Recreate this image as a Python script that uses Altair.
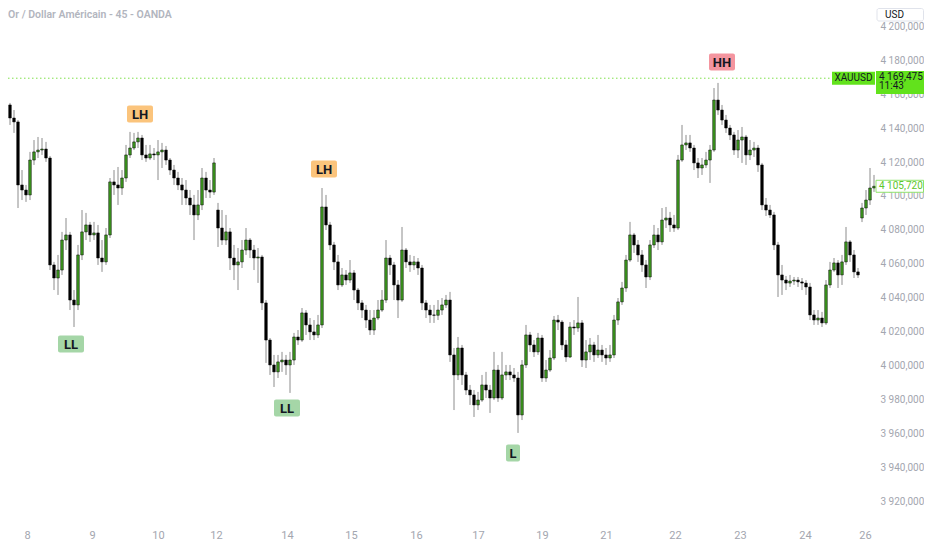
import altair as alt
import pandas as pd

# ---- candle data (XAUUSD, 45-min, resampled view) ----
opens = [4179.1, 4159.6, 4153.7, 4146.0, 4143.7, 4106.5, 4103.5, 4100.6, 4121.2, 4126.0,
         4127.1, 4127.7, 4122.4, 4059.3, 4051.6, 4056.3, 4074.0, 4077.0, 4038.6, 4035.7,
         4065.2, 4078.8, 4082.9, 4077.0, 4078.2, 4063.4, 4061.1, 4077.0, 4108.3, 4106.5,
         4104.7, 4110.6, 4124.2, 4128.3, 4131.9, 4134.2, 4124.2, 4122.4, 4124.8, 4124.2,
         4126.0, 4127.1, 4121.2, 4115.3, 4110.6, 4106.5, 4103.5, 4098.8, 4094.7, 4088.8,
         4094.7, 4110.6, 4103.5, 4102.3, 4091.7, 4081.1, 4074.0, 4078.8, 4063.4, 4059.3,
         4061.1, 4068.1, 4074.0, 4068.1, 4063.4, 4064.0, 4036.9, 4015.0, 4000.3, 3996.2,
         4002.1, 4003.2, 4000.3, 4003.2, 4016.8, 4015.0, 4031.0, 4023.9, 4019.8, 4018.0,
         4023.9, 4093.5, 4082.9, 4071.1, 4061.1, 4047.5, 4053.4, 4050.4, 4054.6, 4044.5,
         4036.9, 4032.7, 4026.8, 4020.9, 4028.0, 4032.7, 4038.6, 4063.4, 4059.3, 4047.5,
         4038.6, 4068.1, 4061.1, 4059.3, 4061.1, 4057.5, 4036.9, 4032.7, 4029.8, 4029.6,
         4032.7, 4035.7, 4038.6, 4006.2, 3994.4, 4010.3, 3994.4, 3985.5, 3982.6, 3976.7,
         3979.6, 3988.5, 3985.5, 3980.8, 3997.3, 3980.8, 3994.4, 3996.2, 3994.4, 3992.6,
         3970.8, 4000.3, 4018.0, 4012.1, 4008.0, 4016.2, 3992.6, 3997.3, 4004.4, 4026.8,
         4025.6, 4012.1, 4005.0, 4022.7, 4022.1, 4025.1, 4003.2, 4008.0, 4012.1, 4006.2,
         4009.1, 4006.2, 4004.4, 4006.2, 4026.8, 4037.5, 4045.7, 4062.2, 4077.0, 4071.1,
         4065.2, 4059.3, 4052.2, 4071.1, 4077.0, 4072.9, 4085.8, 4087.0, 4082.9, 4081.1,
         4121.2, 4130.1, 4131.3, 4128.3, 4119.5, 4116.5, 4118.3, 4121.2, 4127.1, 4156.6,
         4150.7, 4144.8, 4140.1, 4136.0, 4127.1, 4133.0, 4134.8, 4124.2, 4127.1, 4128.3,
         4118.3, 4094.7, 4091.7, 4088.8, 4071.1, 4053.4, 4050.4, 4048.6, 4049.8, 4050.4,
         4049.3, 4048.6, 4046.3, 4029.8, 4026.8, 4028.0, 4025.1, 4047.5, 4056.3, 4060.5,
         4053.4, 4061.1, 4072.9, 4065.2, 4055.2, 4087.0, 4092.9, 4097.6, 4104.7]

highs = [4181.4, 4161.4, 4154.9, 4150.7, 4144.8, 4115.3, 4106.5, 4126.0, 4133.0, 4134.8,
         4134.2, 4131.9, 4123.6, 4061.1, 4065.2, 4078.8, 4087.0, 4078.8, 4044.5, 4071.1,
         4091.7, 4090.0, 4084.7, 4084.7, 4082.9, 4074.0, 4081.1, 4110.6, 4115.3, 4117.1,
         4115.3, 4130.1, 4137.8, 4137.2, 4137.8, 4136.0, 4130.1, 4130.1, 4128.3, 4133.0,
         4131.3, 4129.5, 4122.4, 4118.3, 4114.2, 4110.6, 4109.4, 4103.5, 4100.6, 4103.5,
         4116.5, 4114.2, 4109.4, 4122.4, 4095.9, 4091.7, 4088.8, 4081.1, 4071.1, 4069.3,
         4074.0, 4081.1, 4075.2, 4071.1, 4069.3, 4065.2, 4038.6, 4016.2, 4006.2, 4006.2,
         4008.0, 4006.2, 4008.0, 4019.2, 4020.9, 4033.9, 4032.7, 4028.0, 4026.8, 4029.8,
         4104.7, 4100.6, 4084.7, 4072.9, 4065.2, 4057.5, 4056.3, 4062.2, 4056.3, 4045.7,
         4038.6, 4035.7, 4032.7, 4032.7, 4038.6, 4044.5, 4074.0, 4065.2, 4061.1, 4050.4,
         4081.7, 4069.3, 4065.2, 4064.6, 4063.4, 4059.3, 4038.6, 4035.7, 4035.7, 4038.6,
         4039.8, 4041.6, 4043.4, 4010.3, 4016.8, 4012.1, 3996.2, 3988.5, 3985.5, 3984.4,
         3994.4, 3996.2, 3988.5, 4008.0, 4000.3, 4008.0, 4000.3, 4000.3, 3998.5, 3996.2,
         4003.2, 4023.9, 4019.8, 4015.0, 4019.2, 4018.0, 4003.2, 4009.1, 4029.2, 4029.8,
         4026.8, 4015.0, 4025.6, 4026.8, 4040.4, 4026.8, 4015.0, 4016.2, 4013.9, 4018.0,
         4012.1, 4010.3, 4012.1, 4029.8, 4039.8, 4049.3, 4065.2, 4084.7, 4078.2, 4074.0,
         4068.1, 4062.2, 4074.0, 4082.9, 4081.1, 4092.9, 4093.5, 4090.6, 4088.8, 4124.2,
         4141.9, 4136.0, 4136.0, 4130.1, 4122.4, 4122.4, 4126.0, 4130.1, 4163.7, 4166.7,
         4153.7, 4147.8, 4141.9, 4137.8, 4138.9, 4140.7, 4136.0, 4133.0, 4131.9, 4130.1,
         4119.5, 4098.8, 4094.7, 4090.6, 4072.9, 4059.3, 4052.8, 4053.4, 4052.2, 4052.2,
         4051.6, 4050.4, 4048.7, 4032.7, 4032.7, 4031.6, 4050.4, 4061.1, 4063.4, 4062.2,
         4065.2, 4081.7, 4074.0, 4068.1, 4057.5, 4095.9, 4103.5, 4116.5, 4112.4]

lows = [4156.6, 4147.8, 4141.9, 4137.2, 4092.9, 4097.6, 4096.5, 4097.6, 4118.3, 4122.4,
        4124.2, 4120.1, 4056.3, 4044.5, 4041.6, 4053.4, 4068.1, 4032.7, 4022.7, 4032.7,
        4062.2, 4074.0, 4072.9, 4074.0, 4059.3, 4055.2, 4059.3, 4075.2, 4100.6, 4094.7,
        4100.6, 4108.3, 4122.4, 4127.1, 4128.3, 4121.2, 4120.1, 4121.2, 4121.2, 4109.4,
        4116.5, 4118.3, 4112.4, 4106.5, 4103.5, 4094.7, 4094.7, 4088.8, 4074.0, 4085.8,
        4091.7, 4098.8, 4098.8, 4100.6, 4069.9, 4071.1, 4071.1, 4056.3, 4050.4, 4044.5,
        4057.5, 4065.2, 4063.4, 4056.3, 4048.7, 4032.7, 4001.5, 3994.4, 3987.3, 3992.6,
        3996.2, 3994.4, 3983.8, 4000.3, 4012.1, 4013.9, 4018.0, 4015.0, 4015.0, 4016.2,
        4022.1, 4079.9, 4068.1, 4056.3, 4044.5, 4046.3, 4047.5, 4048.7, 4038.6, 4032.7,
        4028.0, 4022.1, 4018.0, 4018.0, 4026.8, 4031.6, 4036.9, 4053.4, 4038.6, 4028.0,
        4037.5, 4057.5, 4055.2, 4056.3, 4053.4, 4032.7, 4028.0, 4025.1, 4025.1, 4026.8,
        4029.8, 4033.9, 4002.1, 3973.7, 3991.4, 3988.5, 3982.6, 3976.7, 3969.6, 3973.7,
        3978.5, 3980.8, 3972.0, 3979.6, 3978.5, 3979.6, 3991.4, 3991.4, 3990.3, 3960.2,
        3967.8, 3998.5, 4008.0, 4005.0, 4006.2, 3990.3, 3990.3, 3996.2, 4003.2, 4020.9,
        4009.1, 4002.1, 4004.4, 4018.0, 4019.8, 3999.1, 3998.5, 4003.2, 4002.1, 4004.4,
        4002.1, 4000.3, 4002.1, 4004.4, 4023.9, 4035.7, 4043.4, 4061.1, 4066.4, 4061.1,
        4055.2, 4045.7, 4050.4, 4069.3, 4068.1, 4071.1, 4081.1, 4078.8, 4078.8, 4079.9,
        4120.1, 4127.1, 4126.0, 4115.3, 4110.6, 4112.4, 4116.5, 4107.7, 4126.0, 4147.8,
        4141.9, 4137.2, 4133.0, 4124.2, 4122.4, 4119.5, 4118.3, 4121.2, 4123.0, 4114.2,
        4091.7, 4088.2, 4087.0, 4068.1, 4040.4, 4041.6, 4044.5, 4046.3, 4047.5, 4046.3,
        4044.5, 4041.6, 4026.8, 4023.9, 4023.9, 4022.7, 4023.9, 4045.7, 4055.2, 4045.7,
        4047.5, 4059.3, 4061.1, 4051.6, 4051.6, 4084.6, 4088.8, 4094.7, 4102.4]

closes = [4159.6, 4153.7, 4146.0, 4143.7, 4106.5, 4103.5, 4100.6, 4121.2, 4126.0, 4127.1,
          4127.7, 4122.4, 4059.3, 4051.6, 4056.3, 4074.0, 4077.0, 4038.6, 4035.7, 4065.2,
          4078.8, 4082.9, 4077.0, 4078.2, 4063.4, 4061.1, 4077.0, 4108.3, 4106.5, 4104.7,
          4110.6, 4124.2, 4128.3, 4131.9, 4134.2, 4124.2, 4122.4, 4124.8, 4124.2, 4126.0,
          4127.1, 4121.2, 4115.3, 4110.6, 4106.5, 4103.5, 4098.8, 4094.7, 4088.8, 4094.7,
          4110.6, 4103.5, 4102.3, 4119.5, 4081.1, 4074.0, 4078.8, 4063.4, 4059.3, 4061.1,
          4068.1, 4074.0, 4068.1, 4063.4, 4064.0, 4036.9, 4015.0, 4000.3, 3996.2, 4002.1,
          4003.2, 4000.3, 4003.2, 4016.8, 4015.0, 4031.0, 4023.9, 4019.8, 4018.0, 4023.9,
          4093.5, 4082.9, 4071.1, 4061.1, 4047.5, 4053.4, 4050.4, 4054.6, 4044.5, 4036.9,
          4032.7, 4026.8, 4020.9, 4028.0, 4032.7, 4038.6, 4063.4, 4059.3, 4047.5, 4038.6,
          4068.1, 4061.1, 4059.3, 4061.1, 4057.5, 4036.9, 4032.7, 4029.8, 4029.6, 4032.7,
          4035.7, 4038.6, 4006.2, 3994.4, 4010.3, 3994.4, 3985.5, 3982.6, 3976.7, 3979.6,
          3988.5, 3985.5, 3980.8, 3997.3, 3980.8, 3994.4, 3996.2, 3994.4, 3992.6, 3970.8,
          4000.3, 4018.0, 4012.1, 4008.0, 4016.2, 3992.6, 3997.3, 4004.4, 4026.8, 4025.6,
          4012.1, 4005.0, 4022.7, 4022.1, 4025.1, 4003.2, 4008.0, 4012.1, 4006.2, 4009.1,
          4006.2, 4004.4, 4006.2, 4026.8, 4037.5, 4045.7, 4062.2, 4077.0, 4071.1, 4065.2,
          4059.3, 4052.2, 4071.1, 4077.0, 4072.9, 4085.8, 4087.0, 4082.9, 4081.1, 4121.2,
          4130.1, 4131.3, 4128.3, 4119.5, 4116.5, 4118.3, 4121.2, 4127.1, 4156.6, 4150.7,
          4144.8, 4140.1, 4136.0, 4127.1, 4133.0, 4134.8, 4124.2, 4127.1, 4128.3, 4118.3,
          4094.7, 4091.7, 4088.8, 4071.1, 4053.4, 4050.4, 4048.6, 4049.8, 4050.4, 4049.3,
          4048.6, 4046.3, 4029.8, 4026.8, 4028.0, 4025.1, 4047.5, 4056.3, 4060.5, 4053.4,
          4061.1, 4072.9, 4065.2, 4055.2, 4053.4, 4092.9, 4097.6, 4104.7, 4105.72]

# x-axis day labels (positions in bar-index units)
day_ticks = [6.25, 22.5, 39, 53.5, 71.25, 87.25, 103.5, 119, 135, 151, 168.25, 184.5, 200.75, 215.75]
day_labels = ["8", "9", "10", "12", "14", "15", "16", "17", "19", "21", "22", "23", "24", "26"]
price_ticks = [3920, 3940, 3960, 3980, 4000, 4020, 4040, 4060, 4080, 4100, 4120, 4140, 4160, 4180, 4200]

# swing-structure labels
swing_text = ["LL", "LH", "LL", "LH", "L", "HH"]
swing_idx = [17.25, 34.5, 71.25, 80.5, 127.75, 180]
swing_price = [4012.6, 4148.3, 3974.9, 4115.9, 3948.3, 4179.0]

marker_price = 4169.475
last_price = 4105.72
title_text = "Or / Dollar Américain - 45 - OANDA"

FONT = "Roboto"
AXIS_GREY = "#a3a6af"

df = pd.DataFrame({
    "idx": list(range(len(closes))),
    "open": opens, "high": highs, "low": lows, "close": closes,
})
df["dir"] = ["up" if c >= o else "down" for o, c in zip(opens, closes)]

ann = pd.DataFrame({"lab": swing_text, "idx": swing_idx, "price": swing_price})

xscale = alt.Scale(domain=[1.5, 218.5], nice=False, zero=False, padding=0)
yscale = alt.Scale(domain=[3915.9, 4210.9], nice=False, zero=False, padding=0)

# nested conditional mapping tick position -> day label
day_expr = "''"
for t, lab in reversed(list(zip(day_ticks, day_labels))):
    day_expr = f"(abs(datum.value - {t}) < 0.01 ? '{lab}' : {day_expr})"

xaxis = alt.Axis(
    values=day_ticks,
    labelExpr=day_expr,
    title=None, domain=False, ticks=False, tickSize=0, grid=False,
    labelPadding=21, labelFontSize=11, labelColor=AXIS_GREY, labelFont=FONT,
    labelOverlap=False, labelFlush=False, labelBound=False,
)
yaxis = alt.Axis(
    orient="right", values=price_ticks,
    labelExpr="replace(replace(format(datum.value, ',.3f'), ',', ' '), '.', ',')",
    title=None, domain=False, ticks=False, tickSize=0, grid=False,
    labelPadding=4, labelFontSize=10, labelColor=AXIS_GREY, labelFont=FONT,
    labelOverlap=False, labelFlush=False, labelBound=False, tickCount=15,
)


def X(field):
    return alt.X(field, type="quantitative", scale=xscale, axis=xaxis)


def Y(field):
    return alt.Y(field, type="quantitative", scale=yscale, axis=yaxis)


def YD(value):
    return alt.YDatum(value, type="quantitative", scale=yscale, axis=yaxis)


wicks = alt.Chart(df).mark_rule(color="#8c8c8c", strokeWidth=1, clip=True).encode(
    x=X("idx"), y=Y("low"), y2="high"
)
bodies = alt.Chart(df).mark_bar(width=2.6, stroke="#000000", strokeWidth=0.5, clip=True).encode(
    x=X("idx"), y=Y("open"), y2="close",
    color=alt.Color("dir:N", scale=alt.Scale(domain=["up", "down"], range=["#3d9a1e", "#000000"]), legend=None),
)

label_colors = alt.Scale(domain=["LH", "LL", "L", "HH"], range=["#fbc47c", "#a5d6a7", "#a5d6a7", "#f4959f"])
boxes2 = alt.Chart(ann).transform_filter("length(datum.lab) == 2").mark_rect(
    width=26, height=17, cornerRadius=2
).encode(x=X("idx"), y=Y("price"), fill=alt.Fill("lab:N", scale=label_colors, legend=None))
boxes1 = alt.Chart(ann).transform_filter("length(datum.lab) == 1").mark_rect(
    width=14, height=17, cornerRadius=2
).encode(x=X("idx"), y=Y("price"), fill=alt.Fill("lab:N", scale=label_colors, legend=None))
box_text = alt.Chart(ann).mark_text(
    fontSize=13, fontWeight="bold", font=FONT, color="#131722", baseline="middle", align="center", dy=0.5
).encode(x=X("idx"), y=Y("price"), text="lab:N")

one = pd.DataFrame({"k": [0]})

marker_line = alt.Chart(one).mark_rule(color="#7fe04a", strokeWidth=1, strokeDash=[1.5, 2.5]).encode(
    x=alt.value(0), x2=alt.value(824), y=YD(marker_price)
)
sym_box = alt.Chart(one).mark_rect(height=13, fill="#62e21c").encode(
    x=alt.value(824), x2=alt.value(867), y=YD(marker_price)
)
sym_text = alt.Chart(one).mark_text(text="XAUUSD", fontSize=10, font=FONT, color="#131722", align="center").encode(
    x=alt.value(845.5), y=YD(marker_price)
)
px_box = alt.Chart(one).mark_rect(fill="#62e21c").encode(
    x=alt.value(868), x2=alt.value(916), y=alt.value(63), y2=alt.value(86)
)
px_text = alt.Chart(one).mark_text(
    text="4 169,475", fontSize=10, font=FONT, color="#131722", align="left", baseline="middle"
).encode(x=alt.value(871), y=alt.value(68.5))
tm_text = alt.Chart(one).mark_text(
    text="11:43", fontSize=10, font=FONT, color="#131722", align="left", baseline="middle"
).encode(x=alt.value(871), y=alt.value(78))

last_box = alt.Chart(one).mark_rect(height=12, fill="#ffffff", stroke="#8fe36b", strokeWidth=1).encode(
    x=alt.value(868), x2=alt.value(915.5), y=YD(last_price)
)
last_text = alt.Chart(one).mark_text(
    text="4 105,720", fontSize=10, font=FONT, color="#5cc72c", align="left", baseline="middle"
).encode(x=alt.value(871), y=YD(last_price))

usd_box = alt.Chart(one).mark_rect(fill="#ffffff", stroke="#e0e3eb", strokeWidth=1, cornerRadius=2).encode(
    x=alt.value(869), x2=alt.value(915.5), y=alt.value(0.5), y2=alt.value(13)
)
usd_text = alt.Chart(one).mark_text(
    text="USD", fontSize=10, font=FONT, color="#131722", align="left", baseline="middle"
).encode(x=alt.value(877), y=alt.value(7))

title = alt.Chart(one).mark_text(
    text=title_text, fontSize=10.5, font=FONT, fontWeight=600, color="#b2b5be", align="left", baseline="top"
).encode(x=alt.value(0), y=alt.value(1.5))

chart = alt.layer(
    wicks, bodies, marker_line, boxes2, boxes1, box_text,
    sym_box, sym_text, px_box, px_text, tm_text, last_box, last_text,
    usd_box, usd_text, title,
).resolve_scale(color="independent", fill="independent").properties(
    width=868, height=500,
    autosize=alt.AutoSizeParams(type="none"),
    padding={"left": 0, "top": 0, "right": 48, "bottom": 34},
    background="#ffffff",
).configure_view(stroke=None)

chart.save("out.html", embed_options={"renderer": "svg", "actions": False})
